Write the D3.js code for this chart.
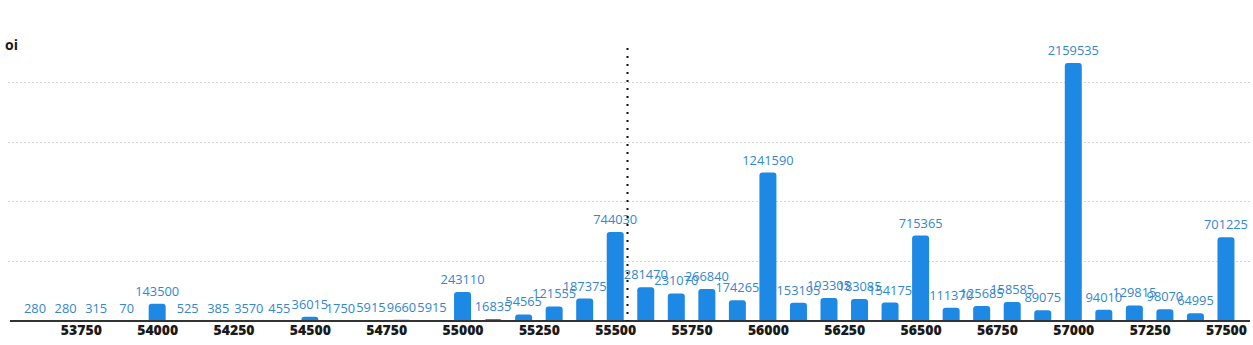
<!DOCTYPE html>
<html>
<head>
<meta charset="utf-8">
<script src="https://cdn.jsdelivr.net/npm/d3@7"></script>
<style>
  html, body { margin: 0; padding: 0; background: #fff; }
  svg { display: block; }
</style>
</head>
<body>
<svg id="chart" width="1253" height="345"></svg>
<script>
const strikes = [53600,53700,53800,53900,54000,54100,54200,54300,54400,54500,
  54600,54700,54800,54900,55000,55100,55200,55300,55400,55500,
  55600,55700,55800,55900,56000,56100,56200,56300,56400,56500,
  56600,56700,56800,56900,57000,57100,57200,57300,57400,57500];
const oi = [280,280,315,70,143500,525,385,3570,455,36015,
  1750,5915,9660,5915,243110,16835,54565,121555,187375,744030,
  281470,231070,266840,174265,1241590,153195,193305,183085,154175,715365,
  111370,125685,158585,89075,2159535,94010,129815,98070,64995,701225];
const xTicks = [53750,54000,54250,54500,54750,55000,55250,55500,55750,56000,56250,56500,56750,57000,57250,57500];
const yGrid = [500000,1000000,1500000,2000000];
const spot = 55540;
const yTitle = "oi";

const svg = d3.select("#chart");
const x = d3.scaleLinear().domain([53520, 57580]).range([10.6, 1250.4]);
const y = d3.scaleLinear().domain([0, 2267512]).range([321, 50]);
const barW = 17;
const r = 3;

// gridlines
svg.append("g").selectAll("line").data(yGrid).join("line")
  .attr("x1", 8).attr("x2", 1252)
  .attr("y1", d => Math.round(y(d)) + 0.5).attr("y2", d => Math.round(y(d)) + 0.5)
  .attr("stroke", "#d6d6d6").attr("stroke-width", 1).attr("stroke-dasharray", "2,2");

// bars
const data = strikes.map((s, i) => ({ s, v: oi[i] }));
svg.append("g").selectAll("path").data(data).join("path")
  .attr("fill", "#1e88e5")
  .attr("d", d => {
    const x0 = x(d.s) - barW / 2, x1 = x0 + barW;
    const yb = y(0), yt = y(d.v);
    const h = yb - yt;
    const rr = Math.min(r, h, barW / 2);
    return `M${x0},${yb}L${x0},${yt + rr}Q${x0},${yt} ${x0 + rr},${yt}L${x1 - rr},${yt}Q${x1},${yt} ${x1},${yt + rr}L${x1},${yb}Z`;
  });

// value labels
svg.append("g").selectAll("text").data(data).join("text")
  .attr("x", d => x(d.s))
  .attr("y", d => y(d.v) - 8)
  .attr("text-anchor", "middle")
  .attr("font-family", "'Open Sans', sans-serif")
  .attr("font-size", 12.8)
  .attr("fill", "#3386d0")
  .text(d => d.v);

// x axis
const xAxis = d3.axisBottom(x).tickValues(xTicks).tickSize(0).tickPadding(4).tickFormat(d3.format("d"));
const gx = svg.append("g").attr("transform", "translate(0,321)").call(xAxis);
gx.select(".domain").attr("stroke", "#333").attr("stroke-width", 2).attr("d", "M10,0H1250");
gx.selectAll("text")
  .attr("font-family", "'Open Sans', sans-serif")
  .attr("font-size", 14)
  .attr("font-weight", 800)
  .attr("fill", "#1a1a1a");

// spot line
svg.append("line")
  .attr("x1", Math.round(x(spot)) + 0.5).attr("x2", Math.round(x(spot)) + 0.5)
  .attr("y1", 48).attr("y2", 321)
  .attr("stroke", "#111").attr("stroke-width", 2).attr("stroke-dasharray", "2,6");

// y title
svg.append("text")
  .attr("x", 5).attr("y", 50)
  .attr("font-family", "'Open Sans', sans-serif")
  .attr("font-size", 14)
  .attr("font-weight", "bold")
  .attr("fill", "#1a1a1a")
  .text(yTitle);
</script>
</body>
</html>
